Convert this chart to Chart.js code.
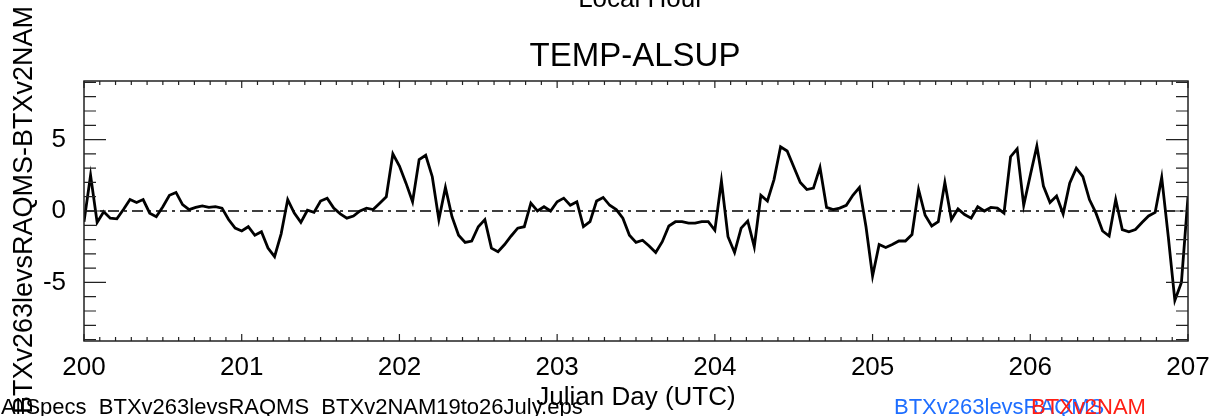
<!DOCTYPE html>
<html>
<head>
<meta charset="utf-8">
<script src="https://cdn.jsdelivr.net/npm/chart.js@4"></script>
<style>
  html, body { margin: 0; padding: 0; background: #fff; }
  #wrap { width: 1217px; height: 416px; }
</style>
</head>
<body>
<div id="wrap"><canvas id="canvas" width="1217" height="416"></canvas></div>
<script>
// hourly TEMP-ALSUP difference, BTXv263levsRAQMS - BTXv2NAM, from day 200.0 to 207.0
const dayStart = 200;
const hoursPerDay = 24;
const diffValues = [
  -0.75, 2.5, -0.8, -0.05, -0.5, -0.55, 0.1, 0.8, 0.6, 0.8, -0.15, -0.4,
  0.3, 1.1, 1.3, 0.45, 0.1, 0.25, 0.35, 0.25, 0.3, 0.2, -0.6, -1.2,
  -1.4, -1.1, -1.7, -1.45, -2.6, -3.2, -1.6, 0.8, -0.15, -0.8, 0.05, -0.1,
  0.7, 0.9, 0.2, -0.2, -0.5, -0.35, 0.0, 0.2, 0.1, 0.55, 1.0, 4.0,
  3.15, 1.95, 0.65, 3.6, 3.9, 2.4, -0.6, 1.65, -0.4, -1.7, -2.2, -2.1,
  -1.1, -0.6, -2.6, -2.85, -2.35, -1.75, -1.2, -1.1, 0.55, 0.0, 0.3, 0.0,
  0.65, 0.9, 0.4, 0.65, -1.1, -0.75, 0.7, 0.95, 0.4, 0.1, -0.5, -1.7,
  -2.2, -2.05, -2.45, -2.9, -2.15, -1.05, -0.75, -0.75, -0.85, -0.85, -0.75, -0.75,
  -1.35, 2.1, -1.8, -2.9, -1.2, -0.7, -2.5, 1.1, 0.7, 2.2, 4.5, 4.2,
  3.1, 2.0, 1.5, 1.6, 3.05, 0.25, 0.1, 0.2, 0.4, 1.1, 1.65, -1.1,
  -4.55, -2.35, -2.55, -2.35, -2.1, -2.1, -1.65, 1.5, -0.3, -1.05, -0.75, 2.0,
  -0.6, 0.15, -0.25, -0.5, 0.3, 0.0, 0.25, 0.2, -0.15, 3.8, 4.35, 0.4,
  2.5, 4.55, 1.75, 0.6, 1.05, -0.2, 1.95, 3.0, 2.4, 0.8, -0.15, -1.4,
  -1.75, 0.8, -1.3, -1.45, -1.3, -0.8, -0.35, -0.1, 2.35, -1.8, -6.25, -5.0,
  1.0
];
const xTickDays = [200, 201, 202, 203, 204, 205, 206, 207];
const yTickVals = [-5, 0, 5];
const zeroLineX = [200, 207];
const zeroLineY = [0, 0];

Chart.defaults.font.family = '"Liberation Sans", Arial, sans-serif';
Chart.defaults.color = '#000';

let points = diffValues.map((v, i) => ({x: dayStart + i / hoursPerDay, y: v}));
let zeroPoints = zeroLineX.map((x, i) => ({x: x, y: zeroLineY[i]}));

// IDL style box with inward ticks, plus the loose text around the plot
const idlFrame = {
    id: 'idlFrame',
    afterDraw(chart) {
        const ctx = chart.ctx;
        const a = chart.chartArea;
        const xs = chart.scales.x, ys = chart.scales.y;
        ctx.save();
        ctx.strokeStyle = '#222';
        ctx.lineWidth = 1.5;
        ctx.strokeRect(a.left, a.top, a.right - a.left, a.bottom - a.top);

        ctx.lineWidth = 1.2;
        ctx.beginPath();
        // x minor ticks every 0.1 day, major every day
        for (let k = 0; k <= 70; k++) {
            let px = xs.getPixelForValue(200 + k / 10);
            let len = (k % 10 === 0) ? 7 : 4;
            ctx.moveTo(px, a.bottom); ctx.lineTo(px, a.bottom - len);
            ctx.moveTo(px, a.top); ctx.lineTo(px, a.top + len);
        }
        // y minor ticks every 1, major every 5
        for (let v = -9; v <= 9; v++) {
            let py = ys.getPixelForValue(v);
            let len = (v % 5 === 0) ? 22 : 12;
            ctx.moveTo(a.left, py); ctx.lineTo(a.left + len, py);
            ctx.moveTo(a.right, py); ctx.lineTo(a.right - len, py);
        }
        ctx.stroke();

        ctx.fillStyle = '#000';
        ctx.textAlign = 'center';
        ctx.textBaseline = 'alphabetic';
        ctx.font = '26px "Liberation Sans", Arial, sans-serif';
        ctx.fillText('Local Hour', 641, 7);
        ctx.fillText('Julian Day (UTC)', 636, 405);
        ctx.font = '33px "Liberation Sans", Arial, sans-serif';
        ctx.fillText('TEMP-ALSUP', 635, 66);

        ctx.save();
        ctx.translate(32, 210);
        ctx.rotate(-Math.PI / 2);
        ctx.font = '27px "Liberation Sans", Arial, sans-serif';
        ctx.fillText('BTXv263levsRAQMS-BTXv2NAM', 0, 0);
        ctx.restore();

        ctx.textAlign = 'left';
        ctx.font = '22px "Liberation Sans", Arial, sans-serif';
        ctx.fillText('AllSpecs_BTXv263levsRAQMS_BTXv2NAM19to26July.eps', 1, 414);
        ctx.fillStyle = 'rgb(30,110,255)';
        ctx.fillText('BTXv263levsRAQMS', 894, 414);
        ctx.fillStyle = 'rgb(255,30,20)';
        ctx.fillText('BTXv2NAM', 1031, 414);
        ctx.restore();
    }
};

new Chart(document.getElementById('canvas'), {
    type: 'line',
    data: {
        datasets: [
            {
                data: points,
                borderColor: '#000',
                borderWidth: 2.8,
                pointRadius: 0,
                tension: 0
            },
            {
                data: zeroPoints,
                borderColor: '#000',
                borderWidth: 1.4,
                borderDash: [11, 5, 3, 5],
                pointRadius: 0
            }
        ]
    },
    options: {
        responsive: false,
        animation: false,
        layout: {padding: {left: 0, top: 81, right: 29, bottom: 0}},
        plugins: {
            legend: {display: false},
            tooltip: {enabled: false}
        },
        scales: {
            x: {
                type: 'linear',
                min: 200,
                max: 207,
                grid: {display: false},
                border: {display: false},
                afterBuildTicks: s => { s.ticks = xTickDays.map(v => ({value: v})); },
                afterFit: s => { s.height = 75; },
                ticks: {
                    font: {size: 26},
                    color: '#000',
                    padding: 3,
                    maxRotation: 0,
                    autoSkip: false,
                    callback: v => String(v)
                }
            },
            y: {
                min: -9.1,
                max: 9.1,
                grid: {display: false},
                border: {display: false},
                afterBuildTicks: s => { s.ticks = yTickVals.map(v => ({value: v})); },
                afterFit: s => { s.width = 84; },
                ticks: {
                    font: {size: 26},
                    color: '#000',
                    padding: 10,
                    callback: v => String(v)
                }
            }
        }
    },
    plugins: [idlFrame]
});
</script>
</body>
</html>
